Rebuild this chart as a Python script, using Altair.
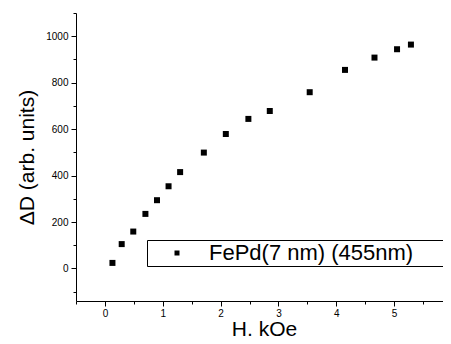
import altair as alt
import pandas as pd

H = [0.13, 0.29, 0.49, 0.70, 0.90, 1.10, 1.30, 1.71, 2.09, 2.48, 2.85, 3.54, 4.15, 4.66, 5.05, 5.29]
D = [24, 105, 159, 235, 294, 354, 415, 499, 579, 644, 678, 759, 855, 908, 944, 964]
series_name = "FePd(7 nm) (455nm)"

x_ticks = [-0.5, 0, 0.5, 1, 1.5, 2, 2.5, 3, 3.5, 4, 4.5, 5, 5.5, 6]
y_ticks = [-100, 0, 100, 200, 300, 400, 500, 600, 700, 800, 900, 1000, 1100]

df = pd.DataFrame({"H": H, "D": D, "series": [series_name] * len(H)})

FONT = "Liberation Sans"

chart = alt.Chart(df).mark_point(shape="square", filled=True, size=36, opacity=1).encode(
    x=alt.X("H:Q", scale=alt.Scale(domain=[-0.5, 6], nice=False, zero=False),
            axis=alt.Axis(values=x_ticks, title="H, kOe",
                          labelExpr="datum.value % 1 == 0 ? format(datum.value, 'd') : ''",
                          tickSize={"condition": {"test": "datum.value % 1 == 0", "value": 5}, "value": 3},
                          grid=False, titleY=34, titleBaseline="alphabetic",
                          labelPadding=2, labelOverlap=False)),
    y=alt.Y("D:Q", scale=alt.Scale(domain=[-140, 1100], nice=False, zero=False),
            axis=alt.Axis(values=y_ticks, title="ΔD (arb. units)",
                          labelExpr="datum.value % 200 == 0 ? format(datum.value, 'd') : ''",
                          tickSize={"condition": {"test": "datum.value % 200 == 0", "value": 5}, "value": 3},
                          grid=False, titlePadding=8, labelPadding=3, labelOverlap=False)),
    color=alt.Color("series:N", scale=alt.Scale(range=["black"]),
                    legend=alt.Legend(title=None, orient="none", legendX=71, legendY=227,
                                      strokeColor="black", padding=2, symbolOffset=17,
                                      symbolType="square", symbolSize=25, labelFontSize=22,
                                      labelFont=FONT, labelLimit=500, labelOffset=21,
                                      labelExpr="datum.label + '\u2800\u2800\u2800\u2800'")),
).properties(
    width=376, height=288,
    autosize=alt.AutoSizeParams(type="none"),
    padding={"left": 68, "top": 5, "right": -9, "bottom": 35},
).configure_view(stroke=None).configure_axis(
    domainColor="black", tickColor="black", labelColor="black", titleColor="black",
    labelFont=FONT, titleFont=FONT, labelFontSize=10, titleFontSize=21,
    titleFontWeight="normal", domainWidth=1, tickWidth=1,
)

chart.save("out.html", embed_options={"renderer": "svg", "actions": False})
